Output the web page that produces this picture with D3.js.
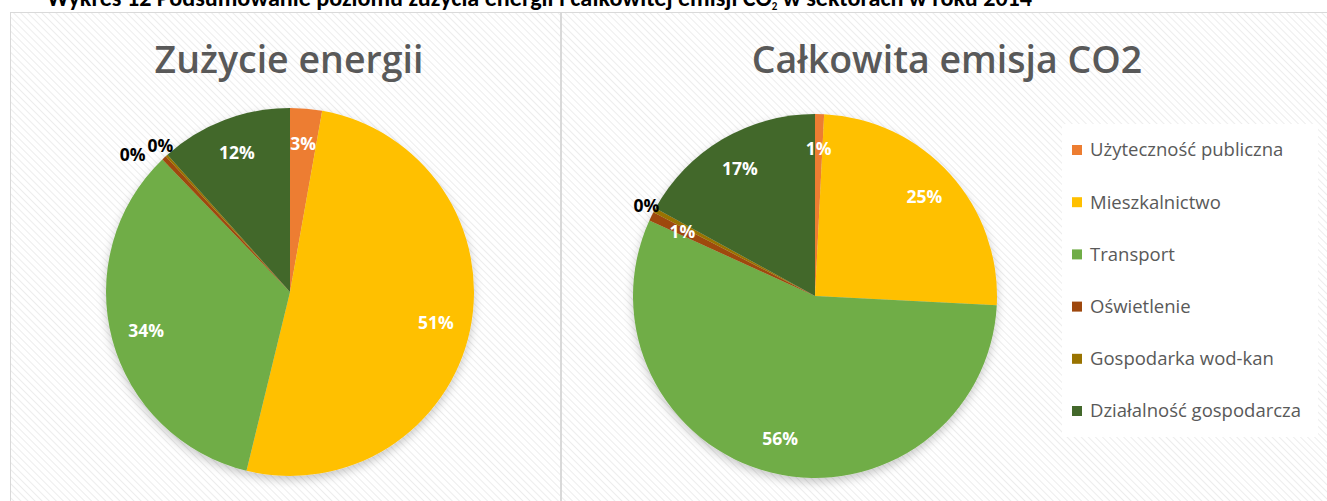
<!DOCTYPE html>
<html>
<head>
<meta charset="utf-8">
<script src="https://cdn.jsdelivr.net/npm/d3@7"></script>
<style>
body { margin: 0; background: #fff; }
text { font-family: "Open Sans", "Noto Sans", sans-serif; }
</style>
</head>
<body>
<div class="chartfield"></div>
<script>
var width = 1327;
var height = 501;

var caption = "Wykres 12 Podsumowanie poziomu zużycia energii i całkowitej emisji CO";
var captionTail = " w sektorach w roku 2014";
var sectors = ["Użyteczność publiczna", "Mieszkalnictwo", "Transport", "Oświetlenie", "Gospodarka wod-kan", "Działalność gospodarcza"];
var colors = ["#ED7D31", "#FFC000", "#70AD47", "#9E480E", "#997300", "#43682B"];
var energy = [2.8, 51.0, 34.0, 0.4, 0.2, 11.6];
var emission = [0.8, 25.0, 56.0, 0.8, 0.4, 17.0];
var titles = ["Zużycie energii", "Całkowita emisja CO2"];

var svg = d3.select(".chartfield").append("svg")
	.attr("width", width)
	.attr("height", height);

var defs = svg.append("defs");
var pat = defs.append("pattern")
	.attr("id", "hatch")
	.attr("patternUnits", "userSpaceOnUse")
	.attr("width", 5).attr("height", 5)
	.attr("patternTransform", "rotate(-45)");
pat.append("rect").attr("width", 5).attr("height", 5).attr("fill", "#ffffff");
pat.append("line").attr("x1", 0).attr("y1", 0).attr("x2", 0).attr("y2", 5)
	.attr("stroke", "#ededed").attr("stroke-width", 2);

var shadow = defs.append("filter").attr("id", "shadow")
	.attr("x", "-20%").attr("y", "-20%").attr("width", "140%").attr("height", "140%");
shadow.append("feDropShadow")
	.attr("dx", 0).attr("dy", 4).attr("stdDeviation", 5)
	.attr("flood-color", "#000").attr("flood-opacity", 0.22);

// caption, cut at the top of the picture (as in the source)
var cap = svg.append("text")
	.attr("x", 47).attr("y", 6)
	.style("font-family", "Carlito, 'Liberation Sans Narrow', 'Open Sans', sans-serif")
	.style("font-weight", "bold").style("font-size", "17px").attr("fill", "#000");
cap.append("tspan").text(caption);
cap.append("tspan").attr("dy", 4).style("font-size", "11px").text("2");
cap.append("tspan").attr("dy", -4).text(captionTail);
var capW = cap.node().getComputedTextLength();
cap.style("font-size", (17 * 988 / capW) + "px");

// panels
var panels = [
	{x: 10.5, w: 550, cx: 290, cy: 292, r: 184, tx: 289},
	{x: 561.5, w: 775, cx: 815, cy: 296, r: 182, tx: 947}
];
panels.forEach(function(p) {
	svg.append("rect")
		.attr("x", p.x).attr("y", 12.5)
		.attr("width", p.w).attr("height", height)
		.attr("fill", "url(#hatch)")
		.attr("stroke", "#d9d9d9").attr("stroke-width", 1);
});

var pie = d3.pie().sort(null).value(function(d) { return d; });

function drawPie(values, p, title) {
	var g = svg.append("g").attr("transform", "translate(" + p.cx + "," + p.cy + ")");
	var arc = d3.arc().innerRadius(0).outerRadius(p.r);
	var arcs = pie(values);

	g.append("g").attr("filter", "url(#shadow)")
		.selectAll("path").data(arcs).enter().append("path")
		.attr("d", arc)
		.attr("fill", function(d, i) { return colors[i]; });

	var labels = arcs.map(function(d, i) {
		var a = (d.startAngle + d.endAngle) / 2;
		var pct = Math.round(d.value);
		var outside = pct == 0;
		var rr = outside ? p.r * 1.05 : p.r * 0.81;
		return {x: rr * Math.sin(a), y: -rr * Math.cos(a), text: pct + "%", outside: outside};
	});

	var txt = g.selectAll("text.lab").data(labels).enter().append("text")
		.attr("class", "lab")
		.attr("text-anchor", "middle")
		.attr("dy", "0.35em")
		.style("font-size", "17.5px").style("font-weight", "bold")
		.attr("fill", function(d) { return d.outside ? "#000" : "#fff"; })
		.text(function(d) { return d.text; });

	// push overlapping outside labels apart
	txt.each(function(d) { d.w = this.getComputedTextLength(); });
	for (var i = 0; i < labels.length; i++) {
		for (var j = i + 1; j < labels.length; j++) {
			var a = labels[i], b = labels[j];
			if (a.outside && b.outside && Math.abs(a.x - b.x) < (a.w + b.w) / 2) {
				a.x = b.x - (a.w + b.w) / 2 - 2;
				a.y += 4; b.y -= 3;
			}
		}
	}
	txt.attr("x", function(d) { return d.x; }).attr("y", function(d) { return d.y; });

	svg.append("text")
		.attr("x", p.tx).attr("y", 73)
		.attr("text-anchor", "middle")
		.style("font-size", "37.5px").style("font-weight", 600)
		.attr("fill", "#595959")
		.text(title);
}

drawPie(energy, panels[0], titles[0]);
drawPie(emission, panels[1], titles[1]);

// legend
var legend = svg.append("g");
legend.append("rect")
	.attr("x", 1062).attr("y", 124).attr("width", 256).attr("height", 313)
	.attr("fill", "#fff");
var ly = d3.scalePoint().domain(sectors).range([150, 411]);
var items = legend.selectAll("g.item").data(sectors).enter().append("g")
	.attr("class", "item")
	.attr("transform", function(d) { return "translate(1072," + ly(d) + ")"; });
items.append("rect")
	.attr("x", 0).attr("y", -5).attr("width", 10).attr("height", 10)
	.attr("fill", function(d, i) { return colors[i]; });
items.append("text")
	.attr("x", 18).attr("dy", "0.35em")
	.style("font-size", "18.5px")
	.attr("fill", "#595959")
	.text(function(d) { return d; });
</script>
</body>
</html>
